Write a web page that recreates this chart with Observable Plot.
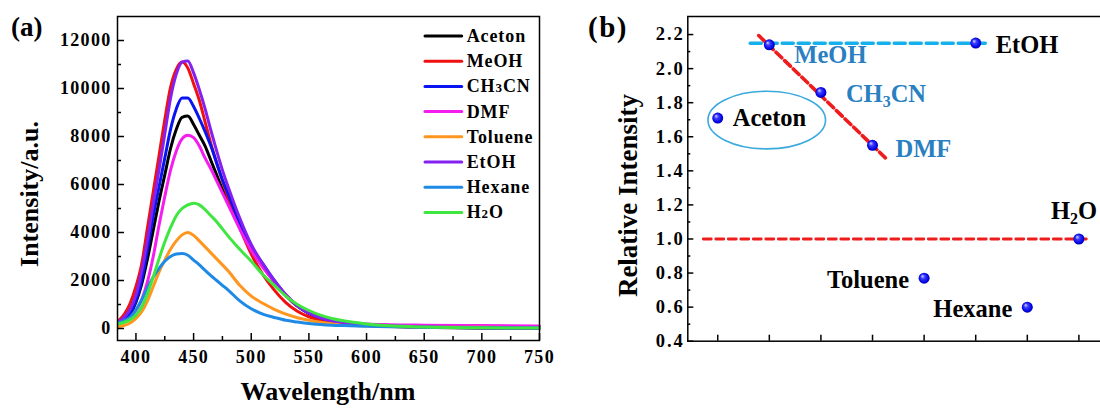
<!DOCTYPE html>
<html><head><meta charset="utf-8">
<script src="https://cdn.jsdelivr.net/npm/d3@7"></script>
<script src="https://cdn.jsdelivr.net/npm/@observablehq/plot@0.6"></script>
<style>
html,body{margin:0;padding:0;background:#fff;}
#root{position:relative;width:1100px;height:408px;overflow:hidden;background:#fff;}
#left,#right{position:absolute;top:0;}
#left{left:0;width:550px}
#right{left:550px;width:590px}
#overlay{position:absolute;left:0;top:0;pointer-events:none}
svg{display:block;max-width:none !important}
</style></head><body>
<div id="root"><div id="left"></div><div id="right"></div><svg id="overlay" width="1100" height="408"></svg></div>
<script>
// ---------- Panel (a): emission spectra ----------
const wavelengths = [385, 390, 395, 400, 405, 410, 415, 420, 425, 430, 435, 440, 445, 450, 455, 460, 465, 470, 475, 480, 490, 500, 510, 520, 530, 540, 550, 560, 570, 580, 600, 620, 650, 700, 750];
const aceton  = [200, 320, 600, 1100, 1850, 2900, 4100, 5300, 6400, 7500, 8300, 8800, 8850, 8500, 8050, 7600, 7000, 6400, 5800, 5300, 4200, 3300, 2600, 1950, 1380, 930, 630, 430, 310, 230, 140, 90, 50, 20, 10];
const meoh    = [330, 600, 1050, 1750, 2700, 4200, 5700, 7200, 8700, 10050, 10800, 11100, 10850, 10200, 9500, 8600, 7700, 6900, 6150, 5450, 4200, 3100, 2250, 1600, 1080, 720, 490, 350, 260, 200, 130, 90, 60, 30, 20];
const ch3cn   = [210, 380, 650, 1150, 2000, 3300, 4700, 5900, 7100, 8300, 9150, 9600, 9600, 9250, 8750, 8200, 7600, 6900, 6200, 5600, 4400, 3400, 2700, 2000, 1400, 950, 640, 440, 320, 240, 150, 100, 60, 30, 20];
const dmf     = [200, 280, 450, 750, 1200, 1950, 3000, 4300, 5500, 6600, 7400, 7900, 8050, 7950, 7600, 7100, 6650, 6150, 5650, 5150, 4150, 3250, 2550, 1950, 1400, 960, 660, 460, 340, 270, 190, 160, 140, 120, 100];
const toluene = [80, 130, 230, 420, 700, 1150, 1750, 2350, 2850, 3300, 3650, 3900, 4000, 3880, 3650, 3400, 3150, 2900, 2650, 2400, 1800, 1350, 1050, 800, 600, 450, 340, 260, 200, 160, 110, 80, 60, 50, 40];
const etoh    = [280, 480, 800, 1400, 2400, 3700, 5200, 6600, 8100, 9600, 10600, 11100, 11150, 10650, 9950, 9150, 8250, 7400, 6600, 5900, 4600, 3500, 2700, 2000, 1400, 950, 650, 450, 330, 250, 160, 110, 70, 40, 30];
const hexane  = [250, 330, 480, 780, 1200, 1700, 2150, 2500, 2800, 3000, 3100, 3120, 3050, 2850, 2650, 2420, 2200, 2000, 1800, 1600, 1150, 820, 600, 460, 340, 270, 210, 170, 140, 120, 90, 70, 50, 30, 20];
const h2o     = [200, 260, 370, 560, 900, 1450, 2150, 2900, 3600, 4200, 4700, 5000, 5150, 5220, 5150, 4950, 4700, 4450, 4150, 3850, 3300, 2800, 2250, 1800, 1350, 1000, 750, 560, 420, 320, 190, 110, 60, 30, 20];

const solventNames  = ["Aceton", "MeOH", "CH3CN", "DMF", "Toluene", "EtOH", "Hexane", "H2O"];
const solventColors = ["#000000", "#f01010", "#0a14f0", "#f51cf0", "#ff961f", "#8420f0", "#1e8ae6", "#40e640"];
const seriesValues  = [aceton, meoh, ch3cn, dmf, toluene, etoh, hexane, h2o];

const xMajorA = [400, 450, 500, 550, 600, 650, 700, 750];
const xMinorA = [425, 475, 525, 575, 625, 675, 725];
const yMajorA = [0, 2000, 4000, 6000, 8000, 10000, 12000];
const yMinorA = [1000, 3000, 5000, 7000, 9000, 11000];

// ---------- Panel (b): relative intensity ----------
const relSolvents  = ["Aceton", "MeOH", "CH3CN", "DMF", "Toluene", "EtOH", "Hexane", "H2O"];
const relPositions = [1, 2, 3, 4, 5, 6, 7, 8];
const relIntensity = [1.71, 2.14, 1.86, 1.55, 0.77, 2.15, 0.60, 1.00];
const yMajorB = [0.4, 0.6, 0.8, 1.0, 1.2, 1.4, 1.6, 1.8, 2.0, 2.2];
const yMinorB = [0.5, 0.7, 0.9, 1.1, 1.3, 1.5, 1.7, 1.9, 2.1];
const cyanGuide  = [{x: 1.63, y: 2.149}, {x: 6.25, y: 2.149}];
const redTrend   = [{x: 1.795, y: 2.194}, {x: 4.25, y: 1.476}];
const redRef     = [{x: 0.72, y: 1.0}, {x: 8.22, y: 1.0}];
const acetonRing = [{x: 1.95, y: 1.698}];

// label layout (offsets/colours), separate from data
const labelLayout = {
  Aceton:  {dx: 15, dy: 8, anchor: "start", color: "#000000"},
  MeOH:    {dx: 25, dy: 18.7, anchor: "start", color: "#2a7fc1"},
  CH3CN:   {dx: 25, dy: 10, anchor: "start", color: "#2a7fc1"},
  DMF:     {dx: 23, dy: 11.7, anchor: "start", color: "#2a7fc1"},
  Toluene: {dx: -15, dy: 10, anchor: "end", color: "#000000"},
  EtOH:    {dx: 20, dy: 10, anchor: "start", color: "#000000"},
  Hexane:  {dx: -15, dy: 10, anchor: "end", color: "#000000"},
  H2O:     {dx: -28, dy: -20, anchor: "start", color: "#000000"}
};

const FONT = '"Liberation Serif", "Times New Roman", Times, serif';

const spectra = solventNames.flatMap((s, k) =>
  wavelengths.map((w, i) => ({solvent: s, wavelength: w, intensity: seriesValues[k][i]})));

const blank = () => "";

const left = Plot.plot({
  width: 550, height: 408,
  marginLeft: 117, marginRight: 11, marginTop: 16, marginBottom: 68,
  x: {domain: [384, 750]},
  y: {domain: [-500, 13000]},
  color: {domain: solventNames, range: solventColors},
  style: {fontFamily: FONT, fontSize: "18px", fontWeight: "bold", color: "black", background: "transparent", overflow: "visible", maxWidth: "none"},
  marks: [
    Plot.line(spectra, {x: "wavelength", y: "intensity", z: "solvent", stroke: "solvent", strokeWidth: 3, curve: "monotone-x"}),
    Plot.axisX({ticks: xMajorA, tickSize: 0, tickPadding: 10, tickFormat: d => String(d), label: null}),
    Plot.axisX({ticks: xMajorA, tickSize: -7, tickFormat: blank, strokeWidth: 1.5, label: null}),
    Plot.axisX({ticks: xMinorA, tickSize: -4, tickFormat: blank, strokeWidth: 1.5, label: null}),
    Plot.axisY({ticks: yMajorA, tickSize: 0, tickPadding: 6, tickFormat: d => String(d), label: null}),
    Plot.axisY({ticks: yMajorA, tickSize: -7, tickFormat: blank, strokeWidth: 1.5, label: null}),
    Plot.axisY({ticks: yMinorA, tickSize: -4, tickFormat: blank, strokeWidth: 1.5, label: null}),
    Plot.frame({stroke: "black", strokeWidth: 1.5})
  ]
});
document.getElementById("left").appendChild(left);
d3.select(left).selectAll('g[aria-label$="tick label"]').style("letter-spacing", "1.3px");

// ellipse symbol (pixel radii)
const K = 0.5523;
const ellipseSymbol = {
  draw(ctx) {
    const a = 58.8, b = 28.8;
    ctx.moveTo(a, 0);
    ctx.bezierCurveTo(a, b * K, a * K, b, 0, b);
    ctx.bezierCurveTo(-a * K, b, -a, b * K, -a, 0);
    ctx.bezierCurveTo(-a, -b * K, -a * K, -b, 0, -b);
    ctx.bezierCurveTo(a * K, -b, a, -b * K, a, 0);
    ctx.closePath();
  }
};

const points = relSolvents.map((s, i) => ({name: s, pos: relPositions[i], value: relIntensity[i]}));

const labelMarks = points.map(p => {
  const L = labelLayout[p.name];
  return Plot.text([p], {x: "pos", y: "value", text: "name", dx: L.dx, dy: L.dy, textAnchor: L.anchor,
    lineAnchor: "bottom", fill: L.color, fontSize: 24.5, fontWeight: "bold"});
});

const right = Plot.plot({
  width: 590, height: 408,
  marginLeft: 137.3, marginRight: 10, marginTop: 16, marginBottom: 67.3,
  x: {domain: [0.42, 9]},
  y: {domain: [0.4, 2.306]},
  style: {fontFamily: FONT, fontSize: "18.5px", fontWeight: "bold", color: "black", background: "transparent", overflow: "visible", maxWidth: "none"},
  marks: [
    Plot.line(redRef, {x: "x", y: "y", stroke: "#ee1c1c", strokeWidth: 2.8, strokeDasharray: "8,4.5"}),
    Plot.line(cyanGuide, {x: "x", y: "y", stroke: "#16b0ec", strokeWidth: 3.6, strokeDasharray: "11,5"}),
    Plot.line(redTrend, {x: "x", y: "y", stroke: "#ee1c1c", strokeWidth: 3.6, strokeDasharray: "8,4"}),
    Plot.dot(acetonRing, {x: "x", y: "y", symbol: ellipseSymbol, r: 1, fill: "none", stroke: "#3aa9dc", strokeWidth: 1.6}),
    Plot.dot(points, {x: "pos", y: "value", r: 5.5, fill: "url(#ballGrad)", stroke: "none"}),
    ...labelMarks,
    Plot.axisX({ticks: relPositions, tickSize: -6, tickFormat: blank, strokeWidth: 1.5, label: null}),
    Plot.axisY({ticks: yMajorB, tickSize: 0, tickPadding: 3, tickFormat: d => d.toFixed(1), label: null}),
    Plot.axisY({ticks: yMajorB, tickSize: -6, tickFormat: blank, strokeWidth: 1.5, label: null}),
    Plot.axisY({ticks: yMinorB, tickSize: -3, tickFormat: blank, strokeWidth: 1.5, label: null}),
    Plot.frame({stroke: "black", strokeWidth: 1.5})
  ]
});
document.getElementById("right").appendChild(right);
const rs = d3.select(right);
rs.selectAll('g[aria-label$="tick label"]').style("letter-spacing", "2px");
const defs = rs.insert("defs", ":first-child");
const grad = defs.append("radialGradient").attr("id", "ballGrad").attr("cx", "0.5").attr("cy", "0.5").attr("r", "0.55").attr("fx", "0.33").attr("fy", "0.3");
grad.append("stop").attr("offset", "0").attr("stop-color", "#d8d8ff");
grad.append("stop").attr("offset", "0.35").attr("stop-color", "#3a3aff");
grad.append("stop").attr("offset", "0.8").attr("stop-color", "#0000e0");
grad.append("stop").attr("offset", "1").attr("stop-color", "#00008a");

// subscripts in panel (b) labels
rs.selectAll("text").each(function () {
  const t = this.textContent;
  const m = t.match(/^(CH|H)(\d)(.*)$/);
  if (m && (t === "CH3CN" || t === "H2O")) {
    const el = d3.select(this);
    el.text(null);
    el.append("tspan").text(m[1]);
    el.append("tspan").attr("font-size", 16).attr("dy", 5).text(m[2]);
    el.append("tspan").attr("dy", -5).text(m[3]);
  }
});

// ---------- overlay: panel letters, axis titles, legend ----------
const ov = d3.select("#overlay").style("font-family", FONT).style("font-weight", "bold");
ov.append("text").attr("x", 11).attr("y", 36).attr("font-size", 27).text("(a)");
ov.append("text").attr("x", 588).attr("y", 36.5).attr("font-size", 29).style("letter-spacing", "1.5px").text("(b)");
ov.append("text").attr("x", 328).attr("y", 400).attr("font-size", 26).attr("text-anchor", "middle").text("Wavelength/nm");
ov.append("text").attr("transform", "translate(38,194) rotate(-90)").attr("font-size", 26).attr("text-anchor", "middle").text("Intensity/a.u.");
ov.append("text").attr("transform", "translate(637,195.5) rotate(-90)").attr("font-size", 27).attr("text-anchor", "middle").text("Relative Intensity");

solventNames.forEach((name, i) => {
  const cy = 36 + i * 25.2;
  ov.append("line").attr("x1", 425).attr("x2", 461.7).attr("y1", cy).attr("y2", cy)
    .attr("stroke", solventColors[i]).attr("stroke-width", 3).attr("stroke-linecap", "round");
  const t = ov.append("text").attr("x", 466.7).attr("y", cy + 6).attr("font-size", 18).style("letter-spacing", "0.9px");
  const m = name.match(/^(CH|H)(\d)(.*)$/);
  if (m) {
    t.append("tspan").text(m[1]);
    t.append("tspan").attr("font-size", 13).text(m[2]);
    t.append("tspan").text(m[3]);
  } else {
    t.text(name);
  }
});
</script>
</body></html>
